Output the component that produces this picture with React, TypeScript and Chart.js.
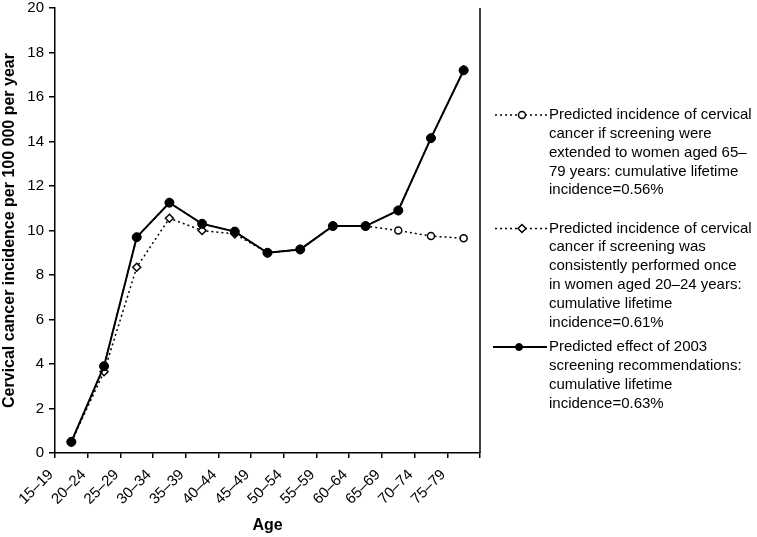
import React, { useEffect, useRef } from 'react';
import { Chart, registerables } from 'chart.js';

Chart.register(...registerables);

const ageGroups = ['15–19', '20–24', '25–29', '30–34', '35–39', '40–44', '45–49', '50–54', '55–59', '60–64', '65–69', '70–74', '75–79'];

const extendedTo79 = [0.5, 3.9, 9.7, 11.25, 10.3, 9.95, 9.0, 9.15, 10.2, 10.2, 10.0, 9.75, 9.65];
const onceAt20to24 = [0.5, 3.65, 8.35, 10.55, 10.0, 9.85, 9.0, 9.15, 10.2, 10.2, 10.9, 14.15, 17.2];
const recommendations2003 = [0.5, 3.9, 9.7, 11.25, 10.3, 9.95, 9.0, 9.15, 10.2, 10.2, 10.9, 14.15, 17.2];

const legendExtended = [
  'Predicted incidence of cervical',
  'cancer if screening were',
  'extended to women aged 65–',
  '79 years: cumulative lifetime',
  'incidence=0.56%',
];
const legendOnce = [
  'Predicted incidence of cervical',
  'cancer if screening was',
  'consistently performed once',
  'in women aged 20–24 years:',
  'cumulative lifetime',
  'incidence=0.61%',
];
const legendRecommendations = [
  'Predicted effect of 2003',
  'screening recommendations:',
  'cumulative lifetime',
  'incidence=0.63%',
];

const yAxisTitle = 'Cervical cancer incidence per 100 000 per year';
const xAxisTitle = 'Age';

const FONT = '"Liberation Sans", Arial, Helvetica, sans-serif';

const toPoints = (values: number[]) => values.map((v, i) => ({ x: i + 0.5, y: v }));

function drawMarker(ctx: CanvasRenderingContext2D, style: string, x: number, y: number, r: number, fill: string, stroke: string, lw: number) {
  ctx.beginPath();
  if (style === 'rectRot') {
    ctx.moveTo(x - r, y);
    ctx.lineTo(x, y - r);
    ctx.lineTo(x + r, y);
    ctx.lineTo(x, y + r);
    ctx.closePath();
  } else {
    ctx.arc(x, y, r, 0, Math.PI * 2);
  }
  ctx.fillStyle = fill;
  ctx.fill();
  ctx.lineWidth = lw;
  ctx.strokeStyle = stroke;
  ctx.setLineDash([]);
  ctx.stroke();
}

const sideLegend = {
  id: 'sideLegend',
  afterDraw(chart: any, _args: any, opts: any) {
    const ctx: CanvasRenderingContext2D = chart.ctx;
    const area = chart.chartArea;
    ctx.save();
    // right frame line
    ctx.strokeStyle = '#000';
    ctx.lineWidth = 1.5;
    ctx.setLineDash([]);
    ctx.beginPath();
    ctx.moveTo(area.right, area.top);
    ctx.lineTo(area.right, area.bottom);
    ctx.stroke();

    chart.data.datasets.forEach((ds: any, i: number) => {
      const y0 = opts.entryY[i];
      ctx.strokeStyle = ds.borderColor;
      ctx.lineWidth = ds.borderWidth;
      ctx.setLineDash(ds.borderDash || []);
      ctx.beginPath();
      ctx.moveTo(opts.lineStart[i], y0);
      ctx.lineTo(opts.lineEnd, y0);
      ctx.stroke();
      drawMarker(ctx, ds.pointStyle, opts.markerX[i], y0, opts.markerRadius[i], ds.pointBackgroundColor, ds.pointBorderColor, ds.pointBorderWidth);
      ctx.fillStyle = '#000';
      ctx.font = opts.font;
      ctx.textAlign = 'left';
      ctx.textBaseline = 'middle';
      (ds.legendLines as string[]).forEach((line, j) => {
        ctx.fillText(line, opts.textX, y0 + j * opts.lineHeight);
      });
    });
    ctx.restore();
  },
};

export default function App() {
  const canvasRef = useRef<HTMLCanvasElement | null>(null);

  useEffect(() => {
    if (!canvasRef.current) return;
    Chart.defaults.font.family = FONT;
    Chart.defaults.color = '#000';
    const chart = new Chart(canvasRef.current, {
      type: 'line',
      data: {
        datasets: [
          {
            label: legendExtended.join(' '),
            legendLines: legendExtended,
            data: toPoints(extendedTo79),
            borderColor: '#000',
            borderWidth: 1.5,
            borderDash: [2, 3],
            pointStyle: 'circle',
            pointRadius: 3.5,
            pointBackgroundColor: '#fff',
            pointBorderColor: '#000',
            pointBorderWidth: 1.5,
            order: 1,
          } as any,
          {
            label: legendOnce.join(' '),
            legendLines: legendOnce,
            data: toPoints(onceAt20to24),
            borderColor: '#000',
            borderWidth: 1.5,
            borderDash: [2, 3],
            pointStyle: 'rectRot',
            pointRadius: 4,
            pointBackgroundColor: '#fff',
            pointBorderColor: '#000',
            pointBorderWidth: 1.5,
            order: 2,
          } as any,
          {
            label: legendRecommendations.join(' '),
            legendLines: legendRecommendations,
            data: toPoints(recommendations2003),
            borderColor: '#000',
            borderWidth: 2,
            borderDash: [],
            pointStyle: 'circle',
            pointRadius: 4.5,
            pointBackgroundColor: '#000',
            pointBorderColor: '#000',
            pointBorderWidth: 1,
            order: 0,
          } as any,
        ],
      },
      options: {
        responsive: false,
        devicePixelRatio: 1,
        animation: false,
        layout: { padding: { top: 8, right: 277, bottom: 0, left: 0 } },
        plugins: {
          legend: { display: false },
          tooltip: { enabled: false },
          sideLegend: {
            entryY: [115, 228.5, 347],
            lineStart: [495, 495, 493],
            lineEnd: 547,
            markerX: [522, 522, 519],
            markerRadius: [3.5, 4, 3.5],
            textX: 549,
            lineHeight: 18.8,
            font: `15px ${FONT}`,
          },
        } as any,
        scales: {
          x: {
            type: 'linear',
            min: 0,
            max: ageGroups.length,
            afterFit: (s: any) => {
              s.height = 84;
              s.paddingLeft = 0;
              s.paddingRight = 0;
            },
            ticks: {
              stepSize: 1,
              autoSkip: false,
              minRotation: 45,
              maxRotation: 45,
              padding: 8,
              labelOffset: -4,
              color: '#000',
              font: { size: 15 },
              callback: (v: any) => ageGroups[v] ?? '',
            },
            grid: {
              display: true,
              drawOnChartArea: false,
              drawTicks: true,
              tickLength: 5,
              color: '#000',
              lineWidth: 1.5,
            },
            border: { display: true, color: '#000', width: 1.5 },
            title: {
              display: true,
              text: xAxisTitle,
              color: '#000',
              font: { size: 16, weight: 'bold' },
              padding: { top: 0, bottom: 2 },
            },
          },
          y: {
            min: 0,
            max: 20,
            afterFit: (s: any) => {
              s.width = 55;
              s.paddingTop = 0;
              s.paddingBottom = 0;
            },
            ticks: {
              stepSize: 2,
              padding: 5,
              color: '#000',
              font: { size: 15 },
            },
            grid: {
              display: true,
              drawOnChartArea: false,
              drawTicks: true,
              tickLength: 6,
              color: '#000',
              lineWidth: 1.5,
            },
            border: { display: true, color: '#000', width: 1.5 },
            title: {
              display: true,
              text: yAxisTitle,
              color: '#000',
              font: { size: 16, weight: 'bold' },
              padding: { top: 0, bottom: 0 },
            },
          },
        },
      },
      plugins: [sideLegend],
    });
    return () => chart.destroy();
  }, []);

  return (
    <div style={{ position: 'absolute', left: 0, top: 0, width: 757, height: 537, background: '#fff' }}>
      <canvas ref={canvasRef} width={757} height={537} style={{ display: 'block', width: 757, height: 537 }} />
    </div>
  );
}
